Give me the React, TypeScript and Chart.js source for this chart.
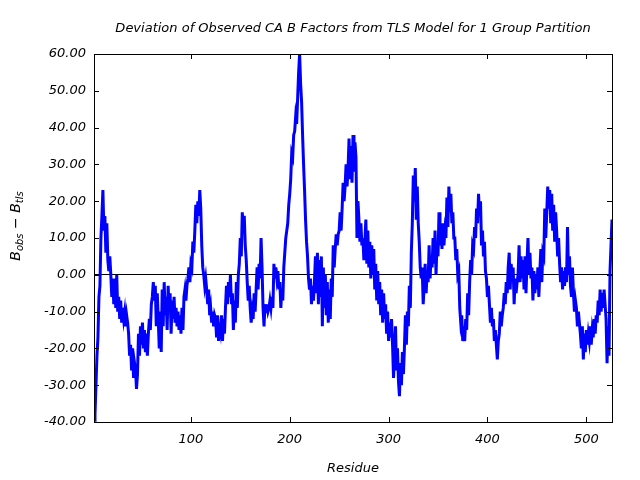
import React, { useEffect, useRef } from "react";
import { Chart, registerables } from "chart.js";

Chart.register(...registerables);

const chartTitle = "Deviation of Observed CA B Factors from TLS Model for 1 Group Partition";
const xAxisTitle = "Residue";

const residues = [
  2, 3, 4, 5, 6, 7, 8, 9, 10, 11, 12, 13, 14, 15, 16, 17, 18, 19, 20, 21, 22, 23, 24, 25, 26,
  27, 28, 29, 30, 31, 32, 33, 34, 35, 36, 37, 38, 39, 40, 41, 42, 43, 44, 45, 46, 47, 48, 49, 50, 51,
  52, 53, 54, 55, 56, 57, 58, 59, 60, 61, 62, 63, 64, 65, 66, 67, 68, 69, 70, 71, 72, 73, 74, 75, 76,
  77, 78, 79, 80, 81, 82, 83, 84, 85, 86, 87, 88, 89, 90, 91, 92, 93, 94, 95, 96, 97, 98, 99, 100, 101,
  102, 103, 104, 105, 106, 107, 108, 109, 110, 111, 112, 113, 114, 115, 116, 117, 118, 119, 120, 121, 122, 123, 124, 125, 126,
  127, 128, 129, 130, 131, 132, 133, 134, 135, 136, 137, 138, 139, 140, 141, 142, 143, 144, 145, 146, 147, 148, 149, 150, 151,
  152, 153, 154, 155, 156, 157, 158, 159, 160, 161, 162, 163, 164, 165, 166, 167, 168, 169, 170, 171, 172, 173, 174, 175, 176,
  177, 178, 179, 180, 181, 182, 183, 184, 185, 186, 187, 188, 189, 190, 191, 192, 193, 194, 195, 196, 197, 198, 199, 200, 201,
  202, 203, 204, 205, 206, 207, 208, 209, 210, 211, 212, 213, 214, 215, 216, 217, 218, 219, 220, 221, 222, 223, 224, 225, 226,
  227, 228, 229, 230, 231, 232, 233, 234, 235, 236, 237, 238, 239, 240, 241, 242, 243, 244, 245, 246, 247, 248, 249, 250, 251,
  252, 253, 254, 255, 256, 257, 258, 259, 260, 261, 262, 263, 264, 265, 266, 267, 268, 269, 270, 271, 272, 273, 274, 275, 276,
  277, 278, 279, 280, 281, 282, 283, 284, 285, 286, 287, 288, 289, 290, 291, 292, 293, 294, 295, 296, 297, 298, 299, 300, 301,
  302, 303, 304, 305, 306, 307, 308, 309, 310, 311, 312, 313, 314, 315, 316, 317, 318, 319, 320, 321, 322, 323, 324, 325, 326,
  327, 328, 329, 330, 331, 332, 333, 334, 335, 336, 337, 338, 339, 340, 341, 342, 343, 344, 345, 346, 347, 348, 349, 350, 351,
  352, 353, 354, 355, 356, 357, 358, 359, 360, 361, 362, 363, 364, 365, 366, 367, 368, 369, 370, 371, 372, 373, 374, 375, 376,
  377, 378, 379, 380, 381, 382, 383, 384, 385, 386, 387, 388, 389, 390, 391, 392, 393, 394, 395, 396, 397, 398, 399, 400, 401,
  402, 403, 404, 405, 406, 407, 408, 409, 410, 411, 412, 413, 414, 415, 416, 417, 418, 419, 420, 421, 422, 423, 424, 425, 426,
  427, 428, 429, 430, 431, 432, 433, 434, 435, 436, 437, 438, 439, 440, 441, 442, 443, 444, 445, 446, 447, 448, 449, 450, 451,
  452, 453, 454, 455, 456, 457, 458, 459, 460, 461, 462, 463, 464, 465, 466, 467, 468, 469, 470, 471, 472, 473, 474, 475, 476,
  477, 478, 479, 480, 481, 482, 483, 484, 485, 486, 487, 488, 489, 490, 491, 492, 493, 494, 495, 496, 497, 498, 499, 500, 501,
  502, 503, 504, 505, 506, 507, 508, 509, 510, 511, 512, 513, 514, 515, 516, 517, 518, 519, 520, 521, 522, 523, 524, 525, 526,
];

const deviation = [
  // residues 2 - 76
  -37, -38, -30, -22, -17, -6, -3, 10, 16, 23,
  12, 16, 6, 14, 4, 1, 5, 0, -6, -1,
  -8, -1, -9, 0, -10, -6, -12, -7, -13, -9,
  -12, -10, -14, -11, -13, -16, -22, -19, -26, -20,
  -28, -24, -26, -31, -27, -16, -22, -14, -19, -13,
  -20, -15, -21, -16, -22, -16, -12, -15, -8, -6,
  -2, -7, -3, -14, -5, -12, -20, -10, -21, -4,
  -14, -2, -11, -6, -15,
  // residues 77 - 150
  -3, -10, -5, -16, -7, -12, -6, -13, -9, -14,
  -10, -15, -11, -16, -9, -15, -6, -4, -7, -3,
  -1, 2, -2, 3, 2, 9, 6, 12, 19, 14,
  20, 16, 23, 18, 8, 2, 0, -3, -1, -4,
  -8, -4, -11, -9, -13, -10, -14, -11, -12, -17,
  -11, -18, -13, -15, -11, -18, -12, -16, -9, -3,
  -8, -2, -6, 0, -8, -5, -15, -7, -13, -2,
  -9, 0, 3, 10,
  // residues 151 - 226
  5, 17, 12, 16, 8, 4, -2, -7, -3, -9,
  -13, -10, -12, -5, -10, -4, 2, -4, 3, -1,
  10, 2, -9, -14, -8, -10, -8, -10, -9, -7,
  -9, -6, -9, 3, -1, 2, -1, 1, -4, -2,
  -9, -4, -7, 2, 6, 10, 12, 14, 19, 22,
  26, 33, 32, 38, 39, 43, 41, 48, 55, 60,
  52, 47, 38, 30, 23, 15, 9, 5, -1, -4,
  -1, -8, -3, -7, -2, 5,
  // residues 227 - 300
  -5, 6, -8, 4, -6, 5, -14, 2, -9, 0,
  -11, -2, -13, -4, -12, -1, -6, 8, 2, 7,
  11, 8, 11, 12, 17, 12, 18, 25, 20, 24,
  30, 24, 29, 37, 26, 35, 25, 38, 28, 36,
  32, 10, 20, 15, 9, 14, 8, 10, 4, 9,
  15, 3, 12, 2, 9, -1, 8, 0, 7, -4,
  3, -7, 1, -8, -2, -11, -4, -13, -5, -12,
  -8, -16, -10, -18,
  // residues 301 - 376
  -13, -17, -12, -19, -28, -21, -14, -26, -20, -29,
  -33, -24, -30, -21, -27, -20, -11, -19, -10, -14,
  -3, -9, 6, 14, 27, 20, 29, 15, 24, 14,
  9, 2, -1, 2, -8, -3, 3, -5, 1, -2,
  8, -1, 5, 2, 10, 3, 12, 0, 9, 5,
  17, 8, 13, 7, 14, 8, 12, 10, 21, 13,
  24, 17, 22, 14, 17, 10, 10, 4, 7, 0,
  1, -9, -13, -11, -18, -14,
  // residues 377 - 450
  -18, -12, -15, -5, -11, -2, 4, 0, 8, 7,
  13, 10, 18, 14, 22, 16, 20, 8, 12, 5,
  9, 1, -1, -6, -3, -8, -13, -9, -14, -12,
  -18, -15, -19, -23, -18, -16, -10, -14, -11, -9,
  -5, -8, -2, -5, 2, 6, -4, 3, -1, 2,
  -8, -1, -5, -2, 0, 8, -2, 5, -1, 4,
  -4, 5, -5, 3, 10, 0, 6, -1, 2, -7,
  1, -5, 0, -4,
  // residues 451 - 526
  2, -6, 1, 7, -2, 6, 5, 18, 10, 17,
  24, 18, 23, 14, 22, 12, 19, 9, 17, 12,
  5, 10, 3, -2, 2, -4, 1, -3, 2, -2,
  13, 0, 5, -3, -6, 2, -5, -10, -7, -9,
  -14, -10, -13, -16, -20, -14, -23, -16, -21, -15,
  -19, -16, -18, -14, -19, -15, -17, -12, -16, -11,
  -13, -7, -11, -4, -10, -5, -9, -4, -8, -12,
  -24, -14, -22, 1, 8, 15,
];

const xTickValues = [100, 200, 300, 400, 500];
const yMin = -40;
const yMax = 60;
const yStep = 10;

const FONT = '"DejaVu Sans", sans-serif';

const framePlugin = {
  id: "frameAndTitles",
  afterDraw(chart: any) {
    const { ctx, chartArea, scales } = chart;
    const { left, right, top, bottom } = chartArea;
    const xs = scales.x;
    const ys = scales.y;
    ctx.save();
    ctx.strokeStyle = "#000";
    ctx.lineWidth = 1;
    ctx.strokeRect(Math.round(left) + 0.5, Math.round(top) + 0.5, Math.round(right - left), Math.round(bottom - top));
    const tl = 5;
    ctx.beginPath();
    for (const v of xTickValues) {
      const px = Math.round(xs.getPixelForValue(v)) + 0.5;
      ctx.moveTo(px, bottom);
      ctx.lineTo(px, bottom - tl);
      ctx.moveTo(px, top);
      ctx.lineTo(px, top + tl);
    }
    for (let v = yMin; v <= yMax; v += yStep) {
      const py = Math.round(ys.getPixelForValue(v)) + 0.5;
      ctx.moveTo(left, py);
      ctx.lineTo(left + tl, py);
      ctx.moveTo(right, py);
      ctx.lineTo(right - tl, py);
    }
    ctx.stroke();

    ctx.fillStyle = "#000";
    ctx.textAlign = "center";
    ctx.textBaseline = "alphabetic";
    ctx.font = `italic 13px ${FONT}`;
    ctx.fillText(chartTitle, (left + right) / 2, 32);
    ctx.font = `italic 13px ${FONT}`;
    ctx.fillText(xAxisTitle, (left + right) / 2, 472);

    // y-axis title with subscripts
    const parts = [
      { t: "B", size: 14, dy: 0 },
      { t: "obs", size: 10, dy: 3 },
      { t: " \u2212 ", size: 14, dy: 0 },
      { t: "B", size: 14, dy: 0 },
      { t: "tls", size: 10, dy: 3 },
    ];
    let total = 0;
    const widths: number[] = [];
    for (const p of parts) {
      ctx.font = `italic ${p.size}px ${FONT}`;
      const w = ctx.measureText(p.t).width;
      widths.push(w);
      total += w;
    }
    ctx.translate(20, (top + bottom) / 2 - 12);
    ctx.rotate(-Math.PI / 2);
    ctx.textAlign = "left";
    let cx = -total / 2;
    parts.forEach((p, i) => {
      ctx.font = `italic ${p.size}px ${FONT}`;
      ctx.fillText(p.t, cx, p.dy);
      cx += widths[i];
    });
    ctx.restore();
  },
};

export default function App() {
  const canvasRef = useRef<HTMLCanvasElement | null>(null);

  useEffect(() => {
    document.body.style.margin = "0";
    const canvas = canvasRef.current;
    if (!canvas) return;
    const points = residues.map((r, i) => ({ x: r, y: deviation[i] }));
    const chart = new Chart(canvas, {
      type: "line",
      data: {
        datasets: [
          {
            data: points,
            borderColor: "#0000ff",
            borderWidth: 3,
            pointRadius: 0,
            tension: 0,
            fill: false,
          },
        ],
      },
      options: {
        animation: false,
        responsive: false,
        devicePixelRatio: 1,
        layout: { padding: { top: 54, right: 28, left: 0, bottom: 0 } },
        plugins: {
          legend: { display: false },
          title: { display: false },
          tooltip: { enabled: false },
        },
        scales: {
          x: {
            type: "linear",
            min: residues[0],
            max: residues[residues.length - 1],
            afterBuildTicks: (scale: any) => {
              scale.ticks = xTickValues.map((v) => ({ value: v }));
            },
            afterFit: (scale: any) => {
              scale.height = 58;
            },
            grid: { display: false, drawTicks: false },
            border: { display: false },
            ticks: {
              padding: 10,
              color: "#000",
              font: { family: FONT, size: 13, style: "italic" },
              maxRotation: 0,
              autoSkip: false,
              callback: (v: any) => String(v),
            },
          },
          y: {
            type: "linear",
            min: yMin,
            max: yMax,
            afterFit: (scale: any) => {
              scale.width = 94;
            },
            grid: {
              drawTicks: false,
              color: (c: any) => (c.tick && c.tick.value === 0 ? "#000" : "rgba(0,0,0,0)"),
              lineWidth: 1,
            },
            border: { display: false },
            ticks: {
              stepSize: yStep,
              padding: 8,
              color: "#000",
              font: { family: FONT, size: 13, style: "italic" },
              callback: (v: any) => Number(v).toFixed(2),
            },
          },
        },
      },
      plugins: [framePlugin],
    });
    return () => chart.destroy();
  }, []);

  return (
    <div style={{ width: 640, height: 480, background: "#fff" }}>
      <canvas ref={canvasRef} width={640} height={480} style={{ display: "block" }} />
    </div>
  );
}
